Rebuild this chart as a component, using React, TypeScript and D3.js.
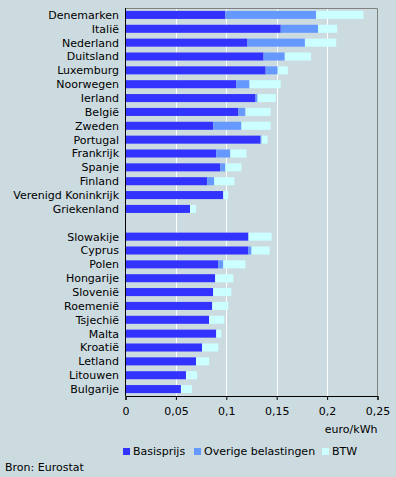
import React, { useRef, useEffect } from 'react';
import * as d3 from 'd3';

// Countries, top to bottom ("" is the gap between the two groups)
const countries = [
  'Denemarken', 'Italië', 'Nederland', 'Duitsland', 'Luxemburg', 'Noorwegen', 'Ierland', 'België',
  'Zweden', 'Portugal', 'Frankrijk', 'Spanje', 'Finland', 'Verenigd Koninkrijk', 'Griekenland',
  '',
  'Slowakije', 'Cyprus', 'Polen', 'Hongarije', 'Slovenië', 'Roemenië', 'Tsjechië', 'Malta',
  'Kroatië', 'Letland', 'Litouwen', 'Bulgarije',
];

const basisprijs = [
  0.099, 0.154, 0.121, 0.137, 0.139, 0.110, 0.129, 0.112,
  0.087, 0.134, 0.090, 0.094, 0.081, 0.097, 0.064,
  0,
  0.122, 0.122, 0.092, 0.089, 0.087, 0.086, 0.083, 0.090,
  0.076, 0.070, 0.060, 0.055,
];
const overige = [
  0.090, 0.037, 0.057, 0.021, 0.012, 0.013, 0.002, 0.007,
  0.028, 0.001, 0.014, 0.005, 0.007, 0, 0,
  0,
  0, 0.003, 0.005, 0, 0, 0, 0, 0,
  0, 0, 0, 0,
];
const btw = [
  0.047, 0.019, 0.031, 0.026, 0.010, 0.031, 0.018, 0.025,
  0.029, 0.006, 0.016, 0.016, 0.020, 0.005, 0.006,
  0,
  0.023, 0.018, 0.022, 0.018, 0.018, 0.016, 0.015, 0.005,
  0.016, 0.013, 0.011, 0.011,
];

const seriesNames = ['Basisprijs', 'Overige belastingen', 'BTW'];
const seriesColors = ['#3333ff', '#6699ff', '#ccffff'];
const xTicks = [0, 0.05, 0.1, 0.15, 0.2, 0.25];

const W = 396, H = 477;
const FONT = 'DejaVu Sans, Verdana, sans-serif';

const App = () => {
  const svgRef = useRef(null);

  useEffect(() => {
    const svg = d3.select(svgRef.current);
    svg.selectAll('*').remove();

    const left = 125.5, right = 377.5, top = 8, bottom = 396;

    svg.append('rect').attr('width', W).attr('height', H).attr('fill', '#ccdbe0');

    const x = d3.scaleLinear().domain([0, 0.25]).range([left, right]);
    const y = d3.scaleBand().domain(countries.map((c, i) => i + '')).range([top, bottom])
      .paddingInner(0.42).paddingOuter(0.21);

    // gridlines
    svg.append('g').selectAll('line')
      .data(xTicks.slice(1, -1))
      .join('line')
      .attr('x1', d => Math.round(x(d)) + 0.5).attr('x2', d => Math.round(x(d)) + 0.5)
      .attr('y1', top).attr('y2', bottom)
      .attr('stroke', '#ffffff').attr('stroke-width', 1);

    // frame top/right
    svg.append('path')
      .attr('d', `M${left},${top + 0.5}H${right}V${bottom}`)
      .attr('fill', 'none').attr('stroke', '#808080').attr('stroke-width', 1);

    // stacked bars
    const rows = countries.map((c, i) => ({ key: i + '', basisprijs: basisprijs[i], overige: overige[i], btw: btw[i] }));
    const stack = d3.stack().keys(['basisprijs', 'overige', 'btw'])(rows);
    svg.append('g').selectAll('g')
      .data(stack)
      .join('g')
      .attr('fill', (d, i) => seriesColors[i])
      .selectAll('rect')
      .data(d => d.filter(p => p[1] - p[0] > 0))
      .join('rect')
      .attr('x', d => x(d[0]))
      .attr('width', d => x(d[1]) - x(d[0]))
      .attr('y', d => y(d.data.key))
      .attr('height', y.bandwidth());

    // country labels
    svg.append('g').selectAll('text')
      .data(countries)
      .join('text')
      .attr('x', 119)
      .attr('y', (d, i) => y(i + '') + y.bandwidth() / 2)
      .attr('dy', '0.36em')
      .attr('text-anchor', 'end')
      .attr('font-family', FONT).attr('font-size', 11)
      .text(d => d);

    // left axis
    svg.append('line')
      .attr('x1', left).attr('x2', left).attr('y1', top).attr('y2', bottom)
      .attr('stroke', '#000');

    // bottom axis
    const xAxis = svg.append('g')
      .attr('transform', `translate(0,${bottom})`)
      .call(d3.axisBottom(x).tickValues(xTicks).tickSize(4).tickPadding(7)
        .tickFormat(d => (d === 0 ? '0' : d3.format('.2~f')(d).replace('.', ','))));
    xAxis.select('.domain').attr('stroke', '#000');
    xAxis.selectAll('text').attr('font-family', FONT).attr('font-size', 11).attr('fill', '#000');

    svg.append('text')
      .attr('x', right).attr('y', 433)
      .attr('text-anchor', 'end')
      .attr('font-family', FONT).attr('font-size', 11)
      .text('euro/kWh');

    // legend
    const legendX = [123, 194, 322];
    const legend = svg.append('g').selectAll('g')
      .data(seriesNames)
      .join('g')
      .attr('transform', (d, i) => `translate(${legendX[i]},448)`);
    legend.append('rect').attr('width', 7).attr('height', 7)
      .attr('fill', (d, i) => seriesColors[i]);
    legend.append('text')
      .attr('x', 10).attr('y', 3.5).attr('dy', '0.36em')
      .attr('font-family', FONT).attr('font-size', 11)
      .text(d => d);

    svg.append('text')
      .attr('x', 5).attr('y', 471)
      .attr('font-family', FONT).attr('font-size', 11)
      .text('Bron: Eurostat');
  }, []);

  return (
    <svg ref={svgRef} width={W} height={H}
      style={{ position: 'absolute', left: 0, top: 0, display: 'block' }} />
  );
};

export default App;
